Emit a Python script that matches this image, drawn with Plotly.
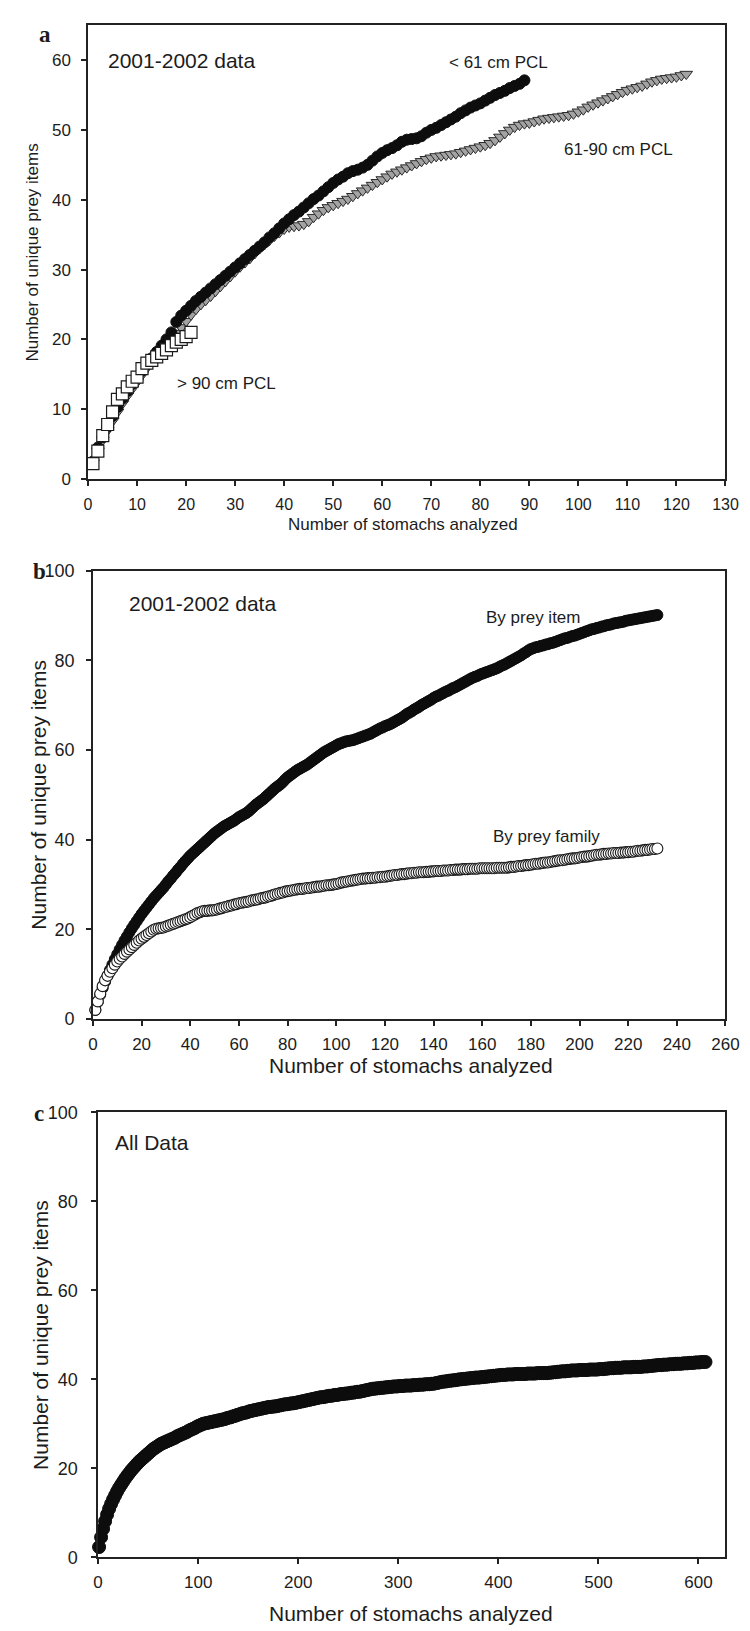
import plotly.graph_objects as go

# ---------------- data ----------------
# Panel a: cumulative unique prey items vs stomachs analyzed (2001-2002, by size class)
a_small_y = [2.5, 4.5, 6.0, 7.5, 9.0, 10.3, 11.5, 12.6, 13.6, 14.6,
             15.5, 16.4, 17.3, 18.2, 19.1, 20.0, 21.0, 22.5, 23.4, 24.1,
             24.8, 25.5, 26.1, 26.7, 27.3, 27.9, 28.5, 29.1, 29.7, 30.3,
             30.9, 31.5, 32.1, 32.7, 33.3, 33.9, 34.6, 35.2, 35.9, 36.6,
             37.2, 37.8, 38.3, 38.9, 39.5, 40.1, 40.6, 41.2, 41.8, 42.4,
             42.9, 43.3, 43.8, 44.1, 44.3, 44.6, 45.0, 45.6, 46.2, 46.7,
             47.1, 47.4, 47.8, 48.3, 48.6, 48.7, 48.8, 49.1, 49.6, 50.0,
             50.3, 50.7, 51.1, 51.5, 51.9, 52.4, 52.8, 53.2, 53.5, 53.8,
             54.2, 54.6, 55.0, 55.3, 55.6, 56.0, 56.3, 56.6, 57.1]
a_mid_y = [2.3, 4.0, 5.6, 7.0, 8.3, 9.6, 10.8, 11.9, 12.9, 13.9,
           14.9, 15.9, 16.9, 17.8, 18.6, 19.4, 20.1, 20.9, 21.7, 22.6,
           23.5, 24.3, 25.0, 25.6, 26.2, 26.9, 27.6, 28.3, 29.0, 29.7,
           30.4, 31.0, 31.6, 32.3, 33.0, 33.6, 34.2, 34.8, 35.3, 35.8,
           36.1, 36.2, 36.3, 36.5, 36.9, 37.5, 38.0, 38.5, 38.9, 39.2,
           39.5, 39.8, 40.1, 40.5, 40.9, 41.3, 41.7, 42.1, 42.5, 42.9,
           43.3, 43.7, 44.0, 44.3, 44.6, 44.9, 45.2, 45.5, 45.8, 46.0,
           46.2, 46.3, 46.4, 46.5, 46.6, 46.8, 47.0, 47.2, 47.4, 47.6,
           47.8, 48.1, 48.5, 49.0, 49.5, 50.0, 50.4, 50.7, 50.9, 51.0,
           51.2, 51.4, 51.6, 51.7, 51.8, 51.9, 52.0, 52.1, 52.3, 52.6,
           52.9, 53.3, 53.6, 53.9, 54.2, 54.5, 54.8, 55.1, 55.4, 55.7,
           55.9, 56.1, 56.3, 56.6, 56.9, 57.1, 57.3, 57.4, 57.5, 57.6,
           57.8, 58.0]
a_large_y = [2.2, 4.0, 6.2, 7.8, 9.6, 11.4, 12.2, 13.2, 14.0, 14.6,
             15.8, 16.6, 17.0, 17.5, 18.0, 18.5, 19.1, 19.6, 20.0, 20.4, 21.0]

# Panel b: by prey item / by prey family (2001-2002)
b_item_y = [2.0, 3.8, 5.4, 6.9, 8.3, 9.6, 10.9, 12.1, 13.3, 14.4,
            15.5, 16.5, 17.5, 18.4, 19.3, 20.2, 21.0, 21.8, 22.6, 23.4,
            24.1, 24.8, 25.5, 26.2, 26.9, 27.5, 28.1, 28.7, 29.3, 30.0,
            30.7, 31.3, 32.0, 32.6, 33.3, 33.9, 34.6, 35.2, 35.8, 36.4,
            36.9, 37.4, 37.9, 38.4, 38.9, 39.4, 39.9, 40.4, 40.9, 41.4,
            41.8, 42.2, 42.6, 43.0, 43.3, 43.6, 43.9, 44.2, 44.6, 45.0,
            45.3, 45.6, 45.9, 46.3, 46.8, 47.3, 47.8, 48.2, 48.6, 49.0,
            49.5, 50.0, 50.5, 51.0, 51.5, 51.9, 52.3, 52.8, 53.4, 53.9,
            54.3, 54.7, 55.1, 55.5, 55.8, 56.1, 56.4, 56.7, 57.1, 57.5,
            57.9, 58.3, 58.7, 59.1, 59.5, 59.8, 60.1, 60.4, 60.7, 61.0,
            61.3, 61.5, 61.7, 61.9, 62.0, 62.1, 62.2, 62.4, 62.6, 62.8,
            63.0, 63.2, 63.4, 63.6, 63.9, 64.2, 64.5, 64.8, 65.0, 65.3,
            65.5, 65.7, 66.0, 66.3, 66.6, 66.9, 67.2, 67.6, 68.0, 68.3,
            68.6, 69.0, 69.3, 69.6, 70.0, 70.3, 70.6, 70.9, 71.2, 71.6,
            71.9, 72.1, 72.4, 72.7, 73.0, 73.2, 73.5, 73.8, 74.0, 74.3,
            74.6, 74.9, 75.2, 75.5, 75.8, 76.1, 76.3, 76.5, 76.8, 77.0,
            77.2, 77.4, 77.6, 77.8, 78.0, 78.2, 78.5, 78.8, 79.0, 79.3,
            79.6, 79.9, 80.2, 80.5, 80.8, 81.1, 81.5, 81.8, 82.2, 82.5,
            82.7, 82.9, 83.0, 83.2, 83.3, 83.5, 83.6, 83.8, 83.9, 84.1,
            84.3, 84.5, 84.7, 84.9, 85.0, 85.2, 85.4, 85.5, 85.7, 85.9,
            86.1, 86.3, 86.5, 86.7, 86.9, 87.0, 87.2, 87.3, 87.5, 87.6,
            87.8, 87.9, 88.0, 88.2, 88.3, 88.4, 88.5, 88.6, 88.8, 88.9,
            89.0, 89.1, 89.2, 89.3, 89.4, 89.5, 89.6, 89.7, 89.8, 89.9,
            90.0, 90.1]
b_family_y = [2.0, 3.9, 5.6, 7.3, 8.6, 9.6, 10.5, 11.3, 12.1, 12.8,
              13.4, 13.9, 14.5, 15.0, 15.5, 16.0, 16.5, 17.0, 17.5, 17.9,
              18.3, 18.7, 19.1, 19.5, 19.9, 20.1, 20.2, 20.3, 20.4, 20.6,
              20.8, 21.0, 21.2, 21.4, 21.6, 21.8, 22.0, 22.2, 22.4, 22.7,
              23.0, 23.3, 23.6, 23.8, 24.0, 24.1, 24.1, 24.2, 24.2, 24.3,
              24.4, 24.6, 24.7, 24.9, 25.0, 25.2, 25.3, 25.5, 25.6, 25.8,
              25.9, 26.0, 26.1, 26.2, 26.4, 26.5, 26.6, 26.7, 26.9, 27.0,
              27.1, 27.3, 27.4, 27.6, 27.8, 27.9, 28.1, 28.2, 28.4, 28.5,
              28.6, 28.7, 28.8, 28.9, 29.0, 29.0, 29.1, 29.2, 29.2, 29.3,
              29.4, 29.5, 29.5, 29.6, 29.7, 29.8, 29.8, 29.9, 30.0, 30.1,
              30.2, 30.4, 30.5, 30.6, 30.7, 30.8, 30.9, 31.0, 31.1, 31.2,
              31.3, 31.3, 31.4, 31.4, 31.5, 31.5, 31.6, 31.6, 31.7, 31.7,
              31.8, 31.9, 32.0, 32.1, 32.1, 32.2, 32.3, 32.3, 32.4, 32.5,
              32.5, 32.6, 32.6, 32.7, 32.7, 32.7, 32.8, 32.8, 32.9, 32.9,
              33.0, 33.0, 33.0, 33.1, 33.1, 33.1, 33.2, 33.2, 33.3, 33.3,
              33.3, 33.4, 33.4, 33.4, 33.5, 33.5, 33.5, 33.5, 33.6, 33.6,
              33.6, 33.6, 33.6, 33.6, 33.6, 33.7, 33.7, 33.7, 33.7, 33.7,
              33.8, 33.9, 33.9, 34.0, 34.1, 34.1, 34.2, 34.3, 34.3, 34.4,
              34.5, 34.6, 34.6, 34.7, 34.8, 34.9, 34.9, 35.0, 35.1, 35.2,
              35.3, 35.4, 35.4, 35.5, 35.6, 35.7, 35.8, 35.8, 35.9, 36.0,
              36.1, 36.2, 36.2, 36.3, 36.4, 36.5, 36.6, 36.6, 36.7, 36.8,
              36.8, 36.9, 36.9, 37.0, 37.0, 37.0, 37.1, 37.1, 37.2, 37.2,
              37.3, 37.3, 37.4, 37.5, 37.5, 37.6, 37.7, 37.7, 37.8, 37.9,
              37.9, 38.0]

# Panel c: all data (read every second stomach: 1, 3, 5, ... 607)
c_all_x = list(range(1, 608, 2))
c_all_y = [2.3, 4.5, 6.4, 8.1, 9.6, 10.9, 12.0, 13.0, 13.9, 14.8,
           15.6, 16.3, 17.0, 17.7, 18.3, 18.9, 19.5, 20.0, 20.5, 21.0,
           21.5, 21.9, 22.3, 22.7, 23.1, 23.5, 23.9, 24.3, 24.6, 24.9,
           25.2, 25.5, 25.7, 25.9, 26.1, 26.3, 26.5, 26.7, 26.9, 27.2,
           27.4, 27.6, 27.8, 28.0, 28.2, 28.5, 28.7, 28.9, 29.1, 29.4,
           29.6, 29.8, 30.0, 30.1, 30.2, 30.3, 30.4, 30.5, 30.6, 30.7,
           30.8, 30.9, 31.0, 31.1, 31.3, 31.4, 31.5, 31.7, 31.8, 32.0,
           32.1, 32.3, 32.4, 32.5, 32.6, 32.8, 32.9, 33.0, 33.1, 33.2,
           33.3, 33.4, 33.5, 33.6, 33.7, 33.8, 33.8, 33.9, 33.9, 34.0,
           34.1, 34.2, 34.3, 34.4, 34.4, 34.5, 34.6, 34.6, 34.7, 34.8,
           34.9, 35.0, 35.1, 35.2, 35.3, 35.4, 35.5, 35.6, 35.7, 35.8,
           35.9, 36.0, 36.0, 36.1, 36.2, 36.3, 36.3, 36.4, 36.5, 36.5,
           36.6, 36.7, 36.7, 36.8, 36.8, 36.9, 37.0, 37.0, 37.1, 37.2,
           37.2, 37.3, 37.4, 37.5, 37.6, 37.7, 37.8, 37.9, 37.9, 38.0,
           38.0, 38.1, 38.1, 38.2, 38.2, 38.3, 38.3, 38.4, 38.4, 38.4,
           38.5, 38.5, 38.5, 38.6, 38.6, 38.6, 38.6, 38.7, 38.7, 38.7,
           38.8, 38.8, 38.8, 38.9, 38.9, 38.9, 39.0, 39.0, 39.1, 39.2,
           39.3, 39.4, 39.5, 39.5, 39.6, 39.7, 39.7, 39.8, 39.8, 39.9,
           40.0, 40.0, 40.1, 40.1, 40.2, 40.2, 40.3, 40.3, 40.4, 40.4,
           40.4, 40.5, 40.5, 40.6, 40.6, 40.7, 40.7, 40.8, 40.8, 40.9,
           40.9, 41.0, 41.0, 41.0, 41.1, 41.1, 41.1, 41.1, 41.2, 41.2,
           41.2, 41.2, 41.2, 41.2, 41.3, 41.3, 41.3, 41.3, 41.3, 41.4,
           41.4, 41.4, 41.4, 41.4, 41.4, 41.5, 41.5, 41.6, 41.6, 41.7,
           41.7, 41.8, 41.8, 41.8, 41.9, 41.9, 42.0, 42.0, 42.0, 42.0,
           42.1, 42.1, 42.1, 42.1, 42.1, 42.2, 42.2, 42.2, 42.2, 42.2,
           42.3, 42.3, 42.3, 42.4, 42.4, 42.5, 42.5, 42.5, 42.6, 42.6,
           42.6, 42.6, 42.7, 42.7, 42.7, 42.7, 42.7, 42.8, 42.8, 42.8,
           42.8, 42.8, 42.9, 42.9, 42.9, 43.0, 43.0, 43.1, 43.1, 43.2,
           43.2, 43.2, 43.3, 43.3, 43.3, 43.4, 43.4, 43.4, 43.5, 43.5,
           43.5, 43.5, 43.6, 43.6, 43.6, 43.7, 43.7, 43.7, 43.8, 43.8,
           43.8, 43.9, 43.9, 43.9]

a_xticks = [0, 10, 20, 30, 40, 50, 60, 70, 80, 90, 100, 110, 120, 130]
a_yticks = [0, 10, 20, 30, 40, 50, 60]
b_xticks = [0, 20, 40, 60, 80, 100, 120, 140, 160, 180, 200, 220, 240, 260]
b_yticks = [0, 20, 40, 60, 80, 100]
c_xticks = [0, 100, 200, 300, 400, 500, 600]
c_yticks = [0, 20, 40, 60, 80, 100]

x_title = "Number of stomachs analyzed"
y_title = "Number of unique prey items"

# ---------------- figure ----------------
W, H = 750, 1631
def fx(p): return p / W
def fy(p): return 1 - p / H

FONT = "Liberation Sans, Arial, sans-serif"
SERIF = "Liberation Serif, Times New Roman, serif"
INK = "#1c1c1c"

fig = go.Figure()

def xs(vals):
    return list(range(1, len(vals) + 1))

# Panel a: triangles below, black circles, squares on top
fig.add_trace(go.Scatter(x=xs(a_mid_y), y=a_mid_y, mode="markers", name="61-90 cm PCL",
                         marker=dict(symbol="triangle-down", size=11, color="#a3a3a3",
                                     line=dict(color="#2a2a2a", width=1)),
                         xaxis="x", yaxis="y", cliponaxis=False, showlegend=False))
fig.add_trace(go.Scatter(x=xs(a_small_y), y=a_small_y, mode="markers", name="< 61 cm PCL",
                         marker=dict(symbol="circle", size=11, color="#0d0d0d",
                                     line=dict(color="#0d0d0d", width=1)),
                         xaxis="x", yaxis="y", cliponaxis=False, showlegend=False))
fig.add_trace(go.Scatter(x=xs(a_large_y), y=a_large_y, mode="markers", name="> 90 cm PCL",
                         marker=dict(symbol="square", size=12, color="white",
                                     line=dict(color="#1a1a1a", width=1.2)),
                         xaxis="x", yaxis="y", cliponaxis=False, showlegend=False))

# Panel b
fig.add_trace(go.Scatter(x=xs(b_item_y), y=b_item_y, mode="markers", name="By prey item",
                         marker=dict(symbol="circle", size=11, color="#0d0d0d",
                                     line=dict(color="#0d0d0d", width=1)),
                         xaxis="x2", yaxis="y2", cliponaxis=False, showlegend=False))
fig.add_trace(go.Scatter(x=xs(b_family_y), y=b_family_y, mode="markers", name="By prey family",
                         marker=dict(symbol="circle", size=11, color="white",
                                     line=dict(color="#1a1a1a", width=1.1)),
                         xaxis="x2", yaxis="y2", cliponaxis=False, showlegend=False))

# Panel c
fig.add_trace(go.Scatter(x=c_all_x, y=c_all_y, mode="markers", name="All Data",
                         marker=dict(symbol="circle", size=13, color="#0d0d0d",
                                     line=dict(color="#0d0d0d", width=1)),
                         xaxis="x3", yaxis="y3", cliponaxis=False, showlegend=False))

def axis(domain, rng, ticks, anchor, fsize, standoff):
    return dict(domain=domain, range=rng, tickvals=ticks, anchor=anchor,
                showline=True, linecolor="#222", linewidth=1.6, mirror=True,
                ticks="outside", ticklen=5, tickwidth=1.5, tickcolor="#222",
                showgrid=False, zeroline=False, fixedrange=True,
                tickfont=dict(family=FONT, size=fsize, color=INK),
                ticklabelstandoff=standoff)

fig.update_layout(
    width=W, height=H, autosize=False,
    margin=dict(l=0, r=0, t=0, b=0),
    paper_bgcolor="white", plot_bgcolor="white",
    showlegend=False,
    xaxis=axis([fx(77), fx(731)], [0, 130], a_xticks, "y", 16, 5),
    yaxis=axis([fy(466.7), fy(7.3)], [0, 65], a_yticks, "x", 17, 7),
    xaxis2=axis([fx(82), fx(731)], [0, 260], b_xticks, "y2", 17, 4),
    yaxis2=axis([fy(1013.3), fy(559.5)], [0, 100], b_yticks, "x2", 18, 8),
    xaxis3=axis([fx(87.3), fx(730)], [0, 626], c_xticks, "y3", 17, 4),
    yaxis3=axis([fy(1558.4), fy(1108)], [0, 100], c_yticks, "x3", 18, 10),
)

def note(text, x, y, size, xanchor="left", angle=0, family=FONT, bold=False):
    if bold:
        text = "<b>" + text + "</b>"
    fig.add_annotation(text=text, x=fx(x), y=fy(y), xref="paper", yref="paper",
                       xanchor=xanchor, yanchor="middle", showarrow=False,
                       textangle=angle, font=dict(family=family, size=size, color=INK))

# Panel letters
note("a", 33, 17, 23, "center", family=SERIF, bold=True)
note("b", 27, 560, 23, "center", family=SERIF, bold=True)
note("c", 27, 1109, 23, "center", family=SERIF, bold=True)

# Panel a texts
note("2001-2002 data", 95, 43, 21)
note("&lt; 61 cm PCL", 445, 45, 17)
note("61-90 cm PCL", 563, 133, 17)
note("&gt; 90 cm PCL", 166, 370, 17)
note(x_title, 400, 513, 17, "center")
note(y_title, 20, 237, 17, "center", angle=-90)

# Panel b texts
note("2001-2002 data", 117, 593, 21)
note("By prey item", 483, 607, 17)
note("By prey family", 490, 829, 17)
note(x_title, 408, 1061, 21, "center")
note(y_title, 26, 786, 21, "center", angle=-90)

# Panel c texts
note("All Data", 103, 1138, 21)
note(x_title, 408, 1615, 21, "center")
note(y_title, 28, 1333, 21, "center", angle=-90)

fig.write_html("out.html")
